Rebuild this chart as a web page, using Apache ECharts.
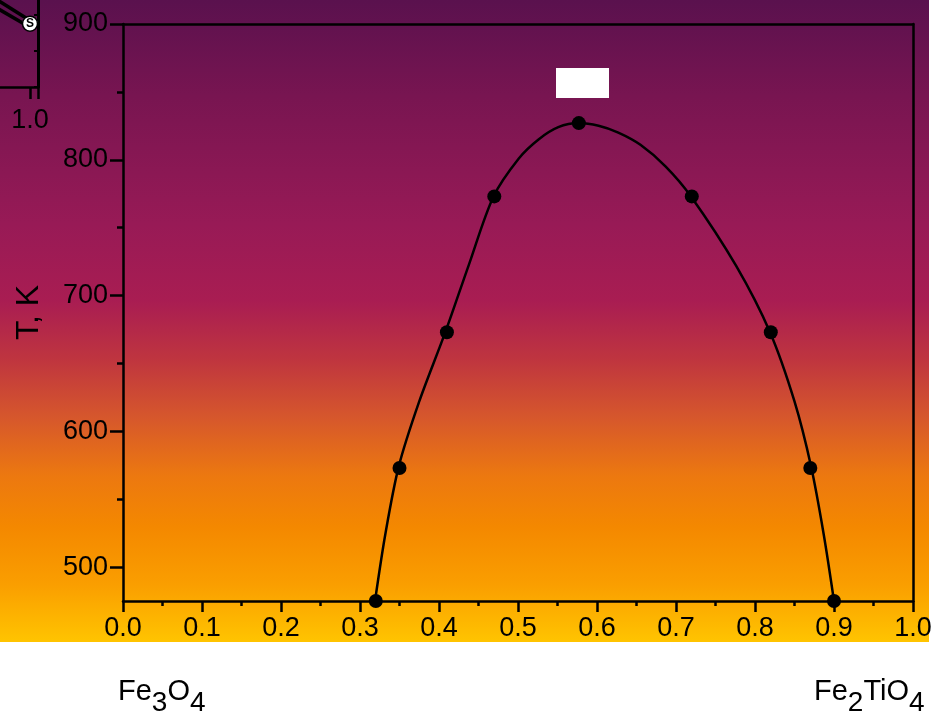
<!DOCTYPE html>
<html>
<head>
<meta charset="utf-8">
<script src="https://cdn.jsdelivr.net/npm/echarts@6/dist/echarts.min.js"></script>
<style>html,body{margin:0;padding:0;background:#fff;}#c{width:948px;height:714px;}</style>
</head>
<body>
<div id="c"></div>
<script>
// ---- data ----
// measured points (filled circles)
const markX = [0.32, 0.35, 0.41, 0.47, 0.577, 0.72, 0.82, 0.87, 0.90];
const markT = [475, 573, 673, 773, 827, 773, 673, 573, 475];
// fitted curve
const curveX = [0.319, 0.332, 0.349, 0.375, 0.408, 0.438, 0.469, 0.501, 0.526, 0.551, 0.577, 0.602, 0.627, 0.655, 0.687, 0.719, 0.776, 0.819, 0.850, 0.871, 0.887, 0.900];
const curveT = [475, 524, 574, 622, 673, 723, 773, 801, 815, 824, 827, 825, 820, 811, 795, 773, 722, 673, 622, 574, 524, 475];
const yMajorTicks = [500, 600, 700, 800, 900];
const yMinorTicks = [550, 650, 750, 850];
// cropped inset in the top-left corner
const insetLine1X = [0.9, 0.995];
const insetLine1Y = [0.637, 0.47];
const insetLine2X = [0.9, 0.99];
const insetLine2Y = [0.576, 0.43];
const insetMarkerX = [1.0];
const insetMarkerY = [0.44];
const leftEndLabel = ['Fe', '3', 'O', '4'];
const rightEndLabel = ['Fe', '2', 'TiO', '4'];

const FONT = 'Liberation Sans, Arial, sans-serif';
const chart = echarts.init(document.getElementById('c'), null, {renderer: 'canvas'});

function pair(xs, ys) { return xs.map((x, i) => [x, ys[i]]); }
function chem(parts) {
  return parts.map((p, i) => (i % 2 === 0 ? '{n|' + p + '}' : '{s|' + p + '}')).join('');
}
const chemRich = {
  n: {fontSize: 29, fontFamily: FONT, color: '#000', lineHeight: 30, padding: [0, 0, 12, 0]},
  s: {fontSize: 28, fontFamily: FONT, color: '#000', lineHeight: 30, padding: [12, 0, 0, 0]}
};

const option = {
  backgroundColor: '#fff',
  animation: false,
  graphic: [
    {
      type: 'rect', z: -100, silent: true,
      shape: {x: 0, y: 0, width: 929, height: 642},
      style: {
        fill: new echarts.graphic.LinearGradient(0, 0, 0, 1, [
          {offset: 0, color: '#5a114e'},
          {offset: 0.15, color: '#781551'},
          {offset: 0.35, color: '#981a56'},
          {offset: 0.47, color: '#a91d52'},
          {offset: 0.56, color: '#bf353f'},
          {offset: 0.65, color: '#d6572c'},
          {offset: 0.74, color: '#ec7810'},
          {offset: 0.82, color: '#f48800'},
          {offset: 0.91, color: '#fa9e00'},
          {offset: 1, color: '#ffc400'}
        ])
      }
    },
    {
      type: 'rect', z: 100, silent: true,
      shape: {x: 556, y: 68, width: 53, height: 30},
      style: {fill: '#ffffff'}
    },
    {
      type: 'text', z: 100, left: 118, top: 677,
      style: {text: chem(leftEndLabel), rich: chemRich}
    },
    {
      type: 'text', z: 100, left: 814, top: 677,
      style: {text: chem(rightEndLabel), rich: chemRich}
    }
  ],
  grid: [
    {left: 123, right: 35, top: 24, bottom: 113, containLabel: false, outerBoundsMode: 'none'},
    {left: -10, width: 48, top: -57, height: 144, containLabel: false, outerBoundsMode: 'none'}
  ],
  xAxis: [
    {
      gridIndex: 0, type: 'value', min: 0, max: 1, interval: 0.1, position: 'bottom',
      axisLine: {show: true, onZero: false, lineStyle: {color: '#000', width: 2.5}},
      axisTick: {show: true, inside: false, length: 11, lineStyle: {color: '#000', width: 2.5}},
      minorTick: {show: true, splitNumber: 2, length: 5, lineStyle: {color: '#000', width: 2.5}},
      axisLabel: {margin: 14, fontSize: 27, fontFamily: FONT, color: '#000',
        formatter: v => v.toFixed(1)},
      splitLine: {show: false}
    },
    {
      gridIndex: 0, type: 'value', min: 0, max: 1, position: 'top',
      axisLine: {show: true, onZero: false, lineStyle: {color: '#000', width: 2.5}},
      axisTick: {show: false}, axisLabel: {show: false}, splitLine: {show: false}
    },
    {
      gridIndex: 1, type: 'value', min: 0.9, max: 1.02, interval: 0.1, position: 'bottom',
      axisLine: {show: true, onZero: false, lineStyle: {color: '#000', width: 2.5}},
      axisTick: {show: true, length: 12, lineStyle: {color: '#000', width: 2.5}},
      axisLabel: {margin: 20, fontSize: 27, fontFamily: FONT, color: '#000',
        formatter: v => (Math.abs(v - 1) < 1e-6 ? '1.0' : '')},
      splitLine: {show: false}
    }
  ],
  yAxis: [
    {
      gridIndex: 0, type: 'value', min: 475, max: 900, position: 'left',
      name: 'T, K', nameLocation: 'middle', nameGap: 78, nameRotate: 90, nameMoveOverlap: false,
      nameTextStyle: {fontSize: 32, fontFamily: FONT, color: '#000'},
      axisLine: {show: true, onZero: false, lineStyle: {color: '#000', width: 2.5}},
      axisTick: {show: true, length: 13, customValues: yMajorTicks, lineStyle: {color: '#000', width: 2.5}},
      axisLabel: {margin: 15, fontSize: 27, fontFamily: FONT, color: '#000', customValues: yMajorTicks},
      splitLine: {show: false}
    },
    {
      gridIndex: 0, type: 'value', min: 475, max: 900, position: 'left',
      axisLine: {show: false},
      axisTick: {show: true, length: 6, customValues: yMinorTicks, lineStyle: {color: '#000', width: 2.5}},
      axisLabel: {show: false, customValues: yMinorTicks},
      splitLine: {show: false}
    },
    {
      gridIndex: 0, type: 'value', min: 475, max: 900, position: 'right',
      axisLine: {show: true, onZero: false, lineStyle: {color: '#000', width: 2.5}},
      axisTick: {show: false}, axisLabel: {show: false}, splitLine: {show: false}
    },
    {
      gridIndex: 1, type: 'value', min: 0, max: 1, interval: 0.25, position: 'right',
      axisLine: {show: true, onZero: false, lineStyle: {color: '#000', width: 3}},
      axisTick: {show: true, inside: true, length: 4, lineStyle: {color: '#000', width: 2}},
      axisLabel: {show: false}, splitLine: {show: false}
    }
  ],
  series: [
    {
      type: 'line', xAxisIndex: 0, yAxisIndex: 0, data: pair(curveX, curveT),
      smooth: 0.3, showSymbol: false, clip: true,
      lineStyle: {color: '#000', width: 2.5}, z: 3
    },
    {
      type: 'scatter', xAxisIndex: 0, yAxisIndex: 0, data: pair(markX, markT),
      symbol: 'circle', symbolSize: 14, clip: true,
      itemStyle: {color: '#000', opacity: 1}, z: 4
    },
    {
      type: 'line', xAxisIndex: 2, yAxisIndex: 3, data: pair(insetLine1X, insetLine1Y),
      showSymbol: false, clip: true, lineStyle: {color: '#000', width: 3.5}
    },
    {
      type: 'line', xAxisIndex: 2, yAxisIndex: 3, data: pair(insetLine2X, insetLine2Y),
      showSymbol: false, clip: true, lineStyle: {color: '#000', width: 3.5}
    },
    {
      type: 'scatter', xAxisIndex: 2, yAxisIndex: 3, data: pair(insetMarkerX, insetMarkerY),
      symbol: 'circle', symbolSize: 15, clip: false, z: 5,
      itemStyle: {color: '#fff', borderColor: '#000', borderWidth: 1.5, opacity: 1},
      label: {show: true, position: 'inside', formatter: 'S', fontSize: 12, fontWeight: 'bold',
        fontFamily: FONT, color: '#000'}
    }
  ]
};
chart.setOption(option);
</script>
</body>
</html>
